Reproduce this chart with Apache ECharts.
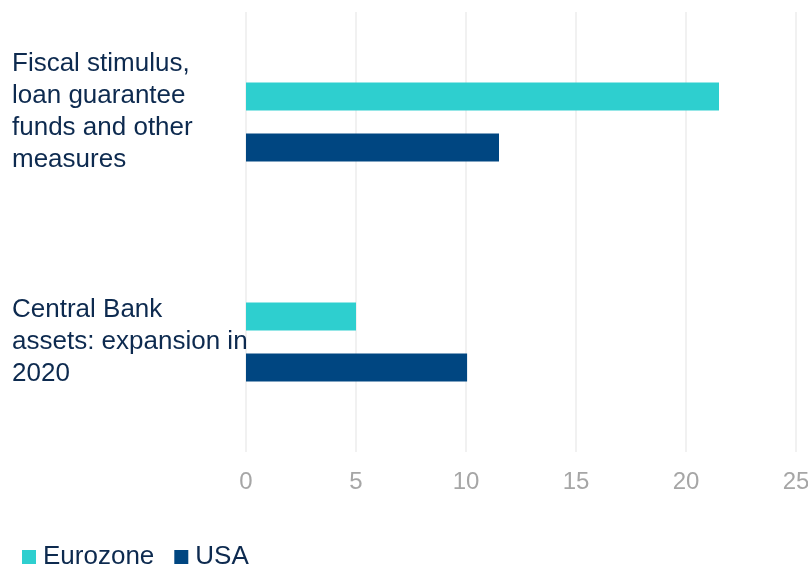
<!DOCTYPE html>
<html>
<head>
<meta charset="utf-8">
<script src="https://cdn.jsdelivr.net/npm/echarts@6/dist/echarts.min.js"></script>
<style>html,body{margin:0;padding:0;background:#fff}#c{width:808px;height:568px}</style>
</head>
<body>
<div id="c"></div>
<script>
const categories = ["Fiscal stimulus,\nloan guarantee\nfunds and other\nmeasures", "Central Bank\nassets: expansion in\n2020"];
const seriesNames = ["Eurozone", "USA"];
const eurozone = [21.5, 5.0];
const usa = [11.5, 10.05];
const xTicks = [0, 5, 10, 15, 20, 25];

const chart = echarts.init(document.getElementById('c'), null, {renderer: 'canvas'});
const font = '"Liberation Sans", Arial, sans-serif';
chart.setOption({
  animation: false,
  textStyle: {fontFamily: font},
  grid: {left: 246, right: 12, top: 12, bottom: 116, containLabel: false, outerBoundsMode: 'none'},
  legend: {
    data: seriesNames,
    left: 22, top: 544, padding: 0,
    icon: 'rect', itemWidth: 14, itemHeight: 14, itemGap: 20,
    textStyle: {color: '#0d2a4f', fontSize: 26, fontFamily: font, padding: [0, 0, 0, 2]}
  },
  xAxis: {
    type: 'value', min: xTicks[0], max: xTicks[xTicks.length - 1], interval: 5,
    axisLine: {show: false}, axisTick: {show: false},
    splitLine: {show: true, lineStyle: {color: '#ececec', width: 1.5}},
    axisLabel: {color: '#a6a6a6', fontSize: 24, margin: 18, fontFamily: font}
  },
  yAxis: {
    type: 'category', inverse: true, data: categories,
    axisLine: {show: false}, axisTick: {show: false},
    axisLabel: {
      align: 'left', margin: 234, color: '#0d2a4f', fontSize: 26, lineHeight: 32, fontFamily: font,
      formatter: function (v, i) {
        const lines = v.split('\n').map(l => '{t|' + l + '}');
        if (i === 0) lines.push('{s| }');
        return lines.join('\n');
      },
      rich: {
        t: {color: '#0d2a4f', fontSize: 26, lineHeight: 32, fontFamily: font},
        s: {fontSize: 10, lineHeight: 20}
      }
    }
  },
  series: [
    {name: seriesNames[0], type: 'bar', data: eurozone, barWidth: 28, barGap: '82%', itemStyle: {color: '#2ecfcf'}},
    {name: seriesNames[1], type: 'bar', data: usa, barWidth: 28, barGap: '82%', itemStyle: {color: '#004681'}}
  ]
});
</script>
</body>
</html>
